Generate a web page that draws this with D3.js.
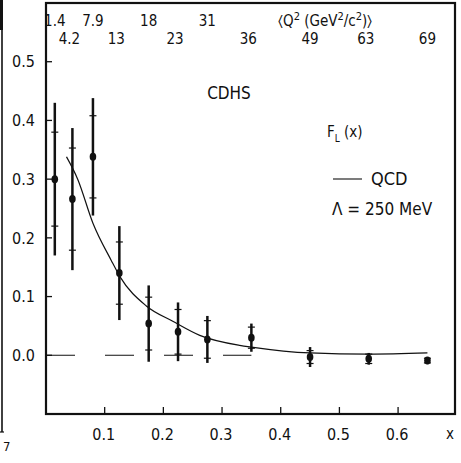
<!DOCTYPE html>
<html lang="en">
<head>
<meta charset="UTF-8">
<title>CDHS F_L(x)</title>
<script src="https://d3js.org/d3.v7.min.js"></script>
<style>
  body { margin: 0; background: #fff; }
  svg text { font-family: "DejaVu Sans Condensed", "Liberation Sans Narrow", "DejaVu Sans", sans-serif; font-stretch: condensed; fill: #111; }
</style>
</head>
<body>
<svg id="chart" width="461" height="463"></svg>
<script>
// data
var xVals    = [0.015, 0.045, 0.08, 0.125, 0.175, 0.225, 0.275, 0.35, 0.45, 0.55, 0.65];
var q2Labels = ["1.4", "4.2", "7.9", "13", "18", "23", "31", "36", "49", "63", "69"];
var flVals   = [0.30, 0.266, 0.338, 0.14, 0.054, 0.04, 0.027, 0.03, -0.003, -0.006, -0.009];
var statErr  = [0.08, 0.087, 0.07, 0.053, 0.045, 0.038, 0.032, 0.018, 0.011, 0.008, 0.004];
var totErr   = [0.13, 0.121, 0.10, 0.08, 0.065, 0.05, 0.04, 0.024, 0.017, 0.01, 0.006];

var qcdX = [0.035, 0.054, 0.08, 0.111, 0.126, 0.171, 0.216, 0.262, 0.33, 0.35, 0.45, 0.55, 0.65];
var qcdY = [0.338, 0.30, 0.225, 0.162, 0.134, 0.084, 0.058, 0.034, 0.017, 0.014, 0.004, 0.002, 0.004];

var xTicks = [0.1, 0.2, 0.3, 0.4, 0.5, 0.6];
var yTicks = [0.0, 0.1, 0.2, 0.3, 0.4, 0.5];

// plot box
var L = 46, R = 455, T = 3, B = 414;

var svg = d3.select("#chart");

var x = d3.scaleLinear().domain([0, 0.697]).range([L, R]);
var y = d3.scaleLinear().domain([-0.1, 0.6]).range([B, T]);

// scan artefact of the neighbouring figure on the left
svg.append("line").attr("x1", 2).attr("y1", 0).attr("x2", 2).attr("y2", 432)
   .attr("stroke", "#111").attr("stroke-width", 1.6);
svg.append("line").attr("x1", 1.5).attr("y1", 0).attr("x2", 1.5).attr("y2", 30)
   .attr("stroke", "#111").attr("stroke-width", 3);
svg.append("line").attr("x1", 0).attr("y1", 432).attr("x2", 4).attr("y2", 432)
   .attr("stroke", "#111").attr("stroke-width", 1.2);
svg.append("text").attr("x", 3).attr("y", 451).attr("font-size", 13).text("7");

// frame
svg.append("rect").attr("x", L).attr("y", T).attr("width", R - L).attr("height", B - T)
   .attr("fill", "none").attr("stroke", "#111").attr("stroke-width", 2.2);

// y ticks
svg.selectAll(".ytick").data(yTicks).enter().append("line")
   .attr("x1", L).attr("x2", L + 6)
   .attr("y1", d => y(d)).attr("y2", d => y(d))
   .attr("stroke", "#111").attr("stroke-width", 1.3);
svg.selectAll(".ylab").data(yTicks).enter().append("text")
   .attr("x", L - 11).attr("y", d => y(d)).attr("dy", "0.36em")
   .attr("text-anchor", "end").attr("font-size", 16)
   .text(d => d3.format(".1f")(d));

// x ticks
svg.selectAll(".xtick").data(xTicks).enter().append("line")
   .attr("x1", d => x(d)).attr("x2", d => x(d))
   .attr("y1", B).attr("y2", B - 7)
   .attr("stroke", "#111").attr("stroke-width", 1.3);
svg.selectAll(".xlab").data(xTicks).enter().append("text")
   .attr("x", d => x(d) - 1).attr("y", B + 26)
   .attr("text-anchor", "middle").attr("font-size", 16)
   .text(d => d3.format(".1f")(d));
svg.append("text").attr("x", 450).attr("y", B + 25).attr("text-anchor", "middle")
   .attr("font-size", 15).text("x");

// top row of <Q^2> labels, alternating between two rows
svg.selectAll(".q2").data(q2Labels).enter().append("text")
   .attr("x", (d, i) => x(xVals[i]) - (i % 2 ? 3 : 0))
   .attr("y", (d, i) => (i < 7 ? (i % 2 ? 44 : 26) : 44))
   .attr("text-anchor", "middle").attr("font-size", 15)
   .text(d => d);
var q2Title = svg.append("text").attr("x", 278).attr("y", 26).attr("font-size", 15);
q2Title.append("tspan").text("\u2329Q");
q2Title.append("tspan").attr("dy", -6).attr("font-size", 11).text("2");
q2Title.append("tspan").attr("dy", 6).text(" (GeV");
q2Title.append("tspan").attr("dy", -6).attr("font-size", 11).text("2");
q2Title.append("tspan").attr("dy", 6).text("/c");
q2Title.append("tspan").attr("dy", -6).attr("font-size", 11).text("2");
q2Title.append("tspan").attr("dy", 6).text(")\u232A");

// zero line, long dashes
svg.append("line")
   .attr("x1", x(0)).attr("x2", x(0.35))
   .attr("y1", y(0)).attr("y2", y(0))
   .attr("stroke", "#111").attr("stroke-width", 1.1)
   .attr("stroke-dasharray", "29,30");

// QCD curve
var qcd = qcdX.map((d, i) => [d, qcdY[i]]);
svg.append("path").datum(qcd)
   .attr("d", d3.line().x(d => x(d[0])).y(d => y(d[1])).curve(d3.curveMonotoneX))
   .attr("fill", "none").attr("stroke", "#111").attr("stroke-width", 1.2);

// error bars
var pts = xVals.map((d, i) => ({ x: d, y: flVals[i], s: statErr[i], t: totErr[i] }));
svg.selectAll(".err").data(pts).enter().append("line")
   .attr("x1", d => x(d.x)).attr("x2", d => x(d.x))
   .attr("y1", d => y(d.y + d.t)).attr("y2", d => y(d.y - d.t))
   .attr("stroke", "#111").attr("stroke-width", 2.5);
[1, -1].forEach(function (sgn) {
  svg.selectAll(".stat" + sgn).data(pts).enter().append("line")
     .attr("x1", d => x(d.x) - 3.5).attr("x2", d => x(d.x) + 3.5)
     .attr("y1", d => y(d.y + sgn * d.s)).attr("y2", d => y(d.y + sgn * d.s))
     .attr("stroke", "#111").attr("stroke-width", 1.2);
});
svg.selectAll(".pt").data(pts).enter().append("ellipse")
   .attr("cx", d => x(d.x)).attr("cy", d => y(d.y))
   .attr("rx", 3.3).attr("ry", 4)
   .attr("fill", "#111");

// labels inside the frame
svg.append("text").attr("x", 229).attr("y", 99).attr("text-anchor", "middle")
   .attr("font-size", 17).text("CDHS");

var fl = svg.append("text").attr("x", 327).attr("y", 137).attr("font-size", 15);
fl.append("tspan").text("F");
fl.append("tspan").attr("dy", 5).attr("font-size", 10).text("L");
fl.append("tspan").attr("dy", -5).text(" (x)");

svg.append("line").attr("x1", 333).attr("x2", 362).attr("y1", 179).attr("y2", 179)
   .attr("stroke", "#111").attr("stroke-width", 1.1);
svg.append("text").attr("x", 371).attr("y", 185).attr("font-size", 18).text("QCD");
svg.append("text").attr("x", 332).attr("y", 215).attr("font-size", 17).text("\u039B = 250 MeV");
</script>
</body>
</html>
